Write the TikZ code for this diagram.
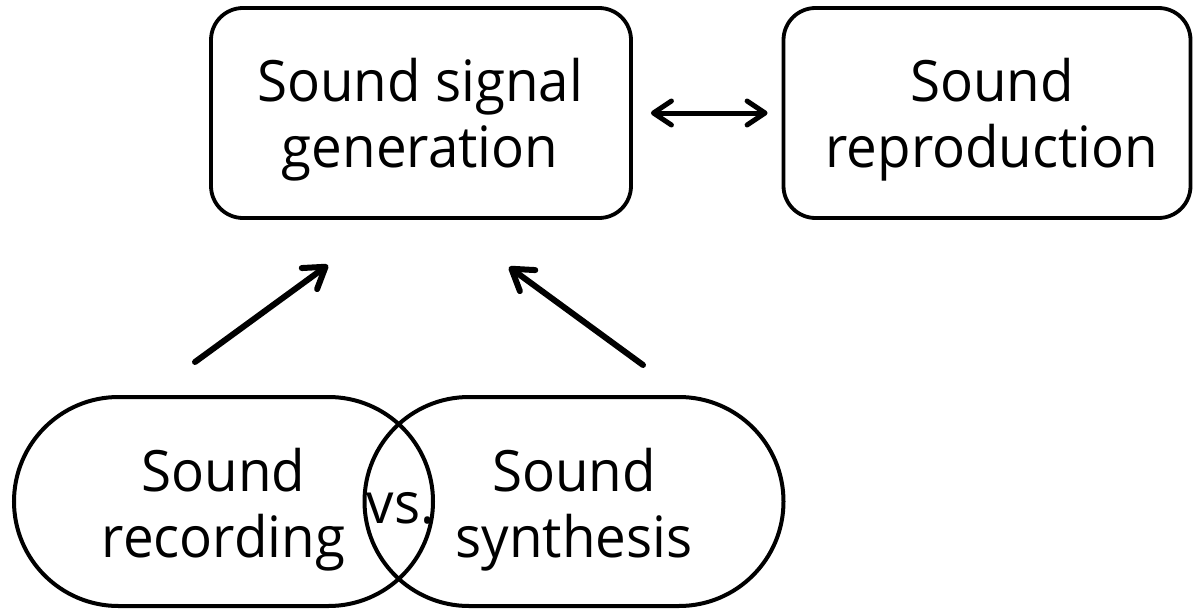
\documentclass[tikz,border=0pt]{standalone}
\usepackage{fontspec}
\setmainfont{Open Sans}[FakeStretch=0.96]
\usetikzlibrary{arrows.meta,shapes.misc}
\begin{document}
\begin{tikzpicture}[x=1pt,y=-1pt,
  box/.style={draw, line width=3.8pt, rounded corners=32pt, minimum width=420pt, minimum height=210pt, inner sep=0pt},
  pill/.style={draw, rounded rectangle, line width=4pt, minimum width=419pt, minimum height=209pt, inner sep=0pt},
  lbl/.style={font=\fontsize{57}{66}\selectfont, align=center, inner sep=0pt},
  tipA/.tip={Straight Barb[length=20pt,width=26pt,line width=6pt,round]},
  tipB/.tip={Straight Barb[length=18pt,width=24pt,line width=5pt,round]},
  arr/.style={line width=6pt, line cap=round, -tipA},
  dbl/.style={line width=5pt, line cap=round, tipB-tipB}
]
\useasboundingbox (0,0) rectangle (1194,610);
\node[box] (gen) at (421,113) {};
\node[box, minimum width=407pt] (rep) at (987,113) {};
\node[lbl] (gent) at (420,120) {Sound signal\\generation};
\node[lbl] (rept) at (992,120) {Sound\\reproduction};
\node[pill] (rec) at (223.5,501.5) {};
\node[pill] (syn) at (574,501.5) {};
\node[lbl] (rect) at (223.5,510) {Sound\\recording};
\node[lbl] (synt) at (574,510) {Sound\\synthesis};
\node[lbl] (vs) at (401,508) {vs.};
\coordinate (a1s) at (195,362);
\coordinate (a1e) at (328,265);
\coordinate (a2s) at (643,365);
\coordinate (a2e) at (509,267);
\draw[arr] (a1s) -- (a1e);
\draw[arr] (a2s) -- (a2e);
\draw[dbl, shorten <=18pt, shorten >=14pt] (gen.east) -- (rep.west);
\end{tikzpicture}
\end{document}
